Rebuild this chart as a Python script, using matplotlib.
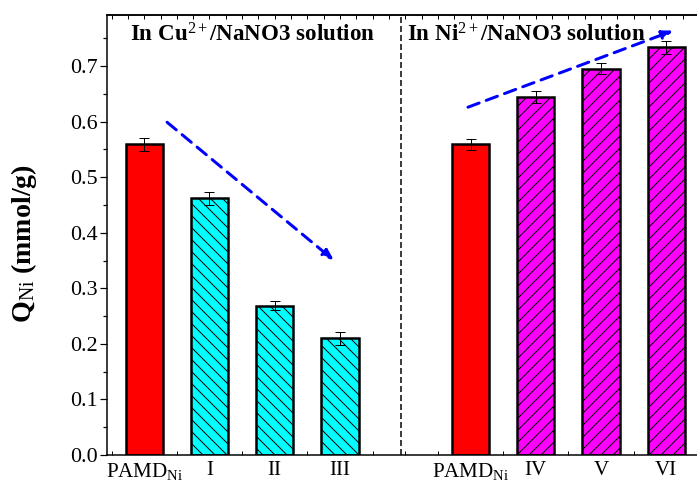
import matplotlib
matplotlib.use('Agg')
import matplotlib.pyplot as plt
import numpy as np
from matplotlib.ticker import MultipleLocator, FixedLocator

plt.rcParams['font.family'] = ['Liberation Serif', 'DejaVu Serif']
plt.rcParams['mathtext.fontset'] = 'custom'
plt.rcParams['mathtext.rm'] = 'Liberation Serif'
plt.rcParams['mathtext.bf'] = 'Liberation Serif:bold'
plt.rcParams['mathtext.it'] = 'Liberation Serif:italic'
plt.rcParams['hatch.linewidth'] = 1.0

labels = ['PAMD$_{\\mathrm{Ni}}$', 'I', 'II', 'III', 'PAMD$_{\\mathrm{Ni}}$', 'IV', 'V', 'VI']
positions = [0, 1, 2, 3, 5, 6, 7, 8]
values = [0.559, 0.462, 0.269, 0.210, 0.559, 0.645, 0.695, 0.734]
errors = [0.011, 0.012, 0.008, 0.012, 0.010, 0.011, 0.010, 0.012]
colours = ['#ff0000', '#00ffff', '#00ffff', '#00ffff', '#ff0000', '#ff00ff', '#ff00ff', '#ff00ff']
hatches = ['', '\\\\', '\\\\', '\\\\', '', '//', '//', '//']

fig = plt.figure(figsize=(697 / 72, 484 / 72), dpi=72)
ax = fig.add_axes([107 / 697, 29 / 484, 590 / 697, 440 / 484])

for p, v, e, c, h in zip(positions, values, errors, colours, hatches):
    ax.bar(p, v, width=0.57, color=c, edgecolor='black', linewidth=2.5, hatch=h, zorder=2)
    ax.errorbar(p, v, yerr=e, color='black', capsize=5, elinewidth=1, capthick=1, zorder=3)

ax.axvline(3.935, color='black', linestyle=(0, (4, 2)), linewidth=1.5, zorder=1)

# trend arrows
ax.annotate('', xy=(2.91, 0.350), xytext=(0.35, 0.599),
            arrowprops=dict(arrowstyle='-|>,head_length=0.9,head_width=0.35', color='blue',
                            lw=3, linestyle=(0, (4, 2.5)), shrinkA=0, shrinkB=0))
ax.annotate('', xy=(8.11, 0.764), xytext=(4.96, 0.626),
            arrowprops=dict(arrowstyle='-|>,head_length=0.9,head_width=0.35', color='blue',
                            lw=3, linestyle=(0, (4, 2.5)), shrinkA=0, shrinkB=0))

ax.text(-0.21, 0.744, 'In Cu$^{2+}$/NaNO3 solution', fontsize=23,
        fontweight='bold', va='baseline', ha='left')
ax.text(4.03, 0.744, 'In Ni$^{2+}$/NaNO3 solution', fontsize=23,
        fontweight='bold', va='baseline', ha='left')

ax.set_xlim(-0.57, 8.47)
ax.set_ylim(0, 0.792)
ax.set_xticks(positions)
ax.set_xticklabels(labels, fontsize=21)
ax.xaxis.set_minor_locator(FixedLocator(np.arange(-0.5, 8.5, 0.5)))
ax.tick_params(axis='x', which='major', length=0, pad=6)
ax.tick_params(axis='x', which='minor', direction='in', length=4, width=1)

ax.yaxis.set_major_locator(MultipleLocator(0.1))
ax.yaxis.set_minor_locator(MultipleLocator(0.05))
ax.yaxis.set_major_formatter(matplotlib.ticker.FormatStrFormatter('%.1f'))
ax.tick_params(axis='y', which='major', direction='out', length=7, width=1.2, labelsize=22, pad=2)
ax.tick_params(axis='y', which='minor', direction='out', length=4, width=1.2)
ax.set_ylabel('Q$_{\\mathrm{Ni}}$ (mmol/g)', fontsize=28, fontweight='bold')
ax.yaxis.set_label_coords(-0.115, 0.48)

for s in ['left', 'bottom', 'top']:
    ax.spines[s].set_linewidth(1.5)
ax.spines['right'].set_visible(False)

# top edge ticks
top = ax.secondary_xaxis('top')
top.set_xticks(np.arange(-0.5, 8.5, 0.25))
top.tick_params(direction='in', length=4, width=1, labeltop=False)
top.spines['top'].set_linewidth(1.5)

fig.savefig('out.png', dpi=72)
